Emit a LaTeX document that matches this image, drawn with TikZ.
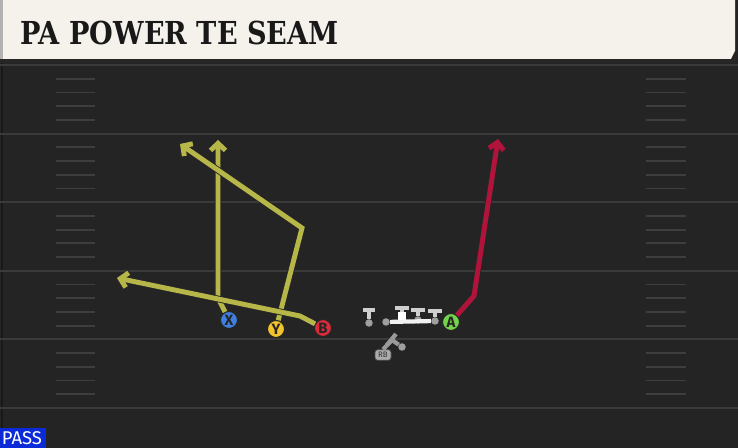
\documentclass[tikz,border=0pt]{standalone}
\usepackage{fontspec}
\usepackage{tikz}
\usetikzlibrary{arrows.meta}
\newfontfamily\headfont{DejaVu Serif}
\newfontfamily\tagfont{Fira Sans}
\definecolor{turf}{HTML}{242424}
\definecolor{yardgray}{HTML}{3A3A3A}
\definecolor{hashgray}{HTML}{3E3E3E}
\definecolor{headbg}{HTML}{F5F2EC}
\definecolor{routeolive}{HTML}{B7B749}
\definecolor{routered}{HTML}{B0143A}
\definecolor{xblue}{HTML}{3F7FE0}
\definecolor{yyellow}{HTML}{F2C42A}
\definecolor{bred}{HTML}{DD2A3A}
\definecolor{agreen}{HTML}{74D34A}
\definecolor{passblue}{HTML}{0B2BD9}
\definecolor{olgray}{HTML}{CFCFCF}
\tikzset{
	yardline/.style={draw=yardgray, line width=1.2pt},
	hashmark/.style={draw=hashgray, line width=1pt},
	route/.style={line width=2.8pt, -{Straight Barb[length=4pt,width=8.5pt]}, preaction={draw=black!85, line width=3.8pt}},
	player/.style={circle, draw=black!85, line width=0.6pt, minimum size=0.34cm, inner sep=0pt, text=black!85, font=\tagfont\bfseries\fontsize{8.5}{8.5}\selectfont},
	olspot/.style={circle, fill=gray!75, inner sep=0pt, minimum size=0.15cm},
	blocker/.style={draw=olgray, line width=2.4pt}
}
\begin{document}
\begin{tikzpicture}[x=0.02cm, y=-0.02cm]
		\useasboundingbox (0,0) rectangle (738,448);
		\fill[turf] (0,0) rectangle (738,448);
		\draw[black!30!turf, line width=0.8pt] (2,60) -- (2,448);
		
		% field
		\foreach \yd in {65,133.6,202.2,270.8,339.4,408}
			\draw[yardline] (0,\yd) -- (738,\yd);
		\foreach \yd in {65,133.6,202.2,270.8,339.4}
			\foreach \k in {1,...,4}
				\draw[hashmark] (56,\yd+\k*13.72) -- (95,\yd+\k*13.72) (646,\yd+\k*13.72) -- (686,\yd+\k*13.72);
		
		% header
		\fill[black!85] (0,57) rectangle (736,63);
		\fill[headbg] (0,0) -- (735,0) -- (735,51) -- (731,59) -- (0,59) -- cycle;
		\fill[gray!60] (0,0) rectangle (3,59);
		\node[anchor=west, inner sep=0pt, text=black!90, font=\headfont\bfseries\fontsize{18}{18}\selectfont] (title) at (20,32.5) {\scalebox{0.86}[1]{PA POWER TE SEAM}};
		
		% players
		\node[player, fill=xblue] (X) at (229,320) {X};
		\node[player, fill=yyellow] (Y) at (276,329) {Y};
		\node[player, fill=bred] (B) at (323,328) {B};
		\node[player, fill=agreen] (A) at (451,322) {A};
		
		\coordinate (xbreak) at (218,298);
		\coordinate (xend) at (218,140);
		\coordinate (ybreak) at (302,228);
		\coordinate (yend) at (180,144);
		\coordinate (bbreak) at (300,316);
		\coordinate (bend) at (117,278);
		\coordinate (abreak) at (474,296);
		\coordinate (aend) at (498,139);
		
		\draw[route, draw=routeolive] (X) -- (xbreak) -- (xend);
		\draw[route, draw=routeolive] (Y) -- (ybreak) -- (yend);
		\draw[route, draw=routeolive] (B) -- (bbreak) -- (bend);
		\draw[route, draw=routered] (A) -- (abreak) -- (aend);
		
		% line
		\node[olspot] (lt) at (369,323) {};
		\node[olspot] (lg) at (386,322) {};
		\node[olspot] (rg) at (418,320) {};
		\node[olspot] (rt) at (435,321) {};
		\draw[blocker, draw=white!90!gray] (lg) -- (rt);
		\draw[blocker] (lt) -- ++(0,-13) ++(-6,0) -- ++(12,0);
		\draw[blocker] (rg) -- ++(0,-10) ++(-7,0) -- ++(14,0);
		\draw[blocker] (rt) -- ++(0,-10) ++(-7,0) -- ++(14,0);
		\draw[blocker] (402,316) -- ++(0,-8) ++(-7,0) -- ++(14,0);
		\node[fill=white, minimum size=0.15cm, inner sep=0pt] (c) at (402,316) {};
		
		% back
		\node[olspot] (rbspot) at (402,347) {};
		\coordinate (rbblk) at (392,340);
		\node[fill=gray!65, draw=black!70, line width=0.4pt, rounded corners=1.5pt, minimum width=0.32cm, minimum height=0.21cm, inner sep=0pt, text=black!80, font=\tagfont\fontsize{4.5}{4.5}\selectfont] (RB) at (383,355) {RB};
		\draw[blocker, draw=gray!80] (rbspot) -- (rbblk);
		\draw[blocker, draw=gray!80] (RB.north) -- (rbblk);
		\draw[blocker, draw=gray!80] (387,345) -- (396,334);
		
		% tag
		\fill[passblue] (0,428) rectangle (46,448);
		\node[text=white, inner sep=0pt, font=\tagfont\fontsize{10.5}{10.5}\selectfont] (pass) at (22,438.5) {PASS};
	\end{tikzpicture}
\end{document}
